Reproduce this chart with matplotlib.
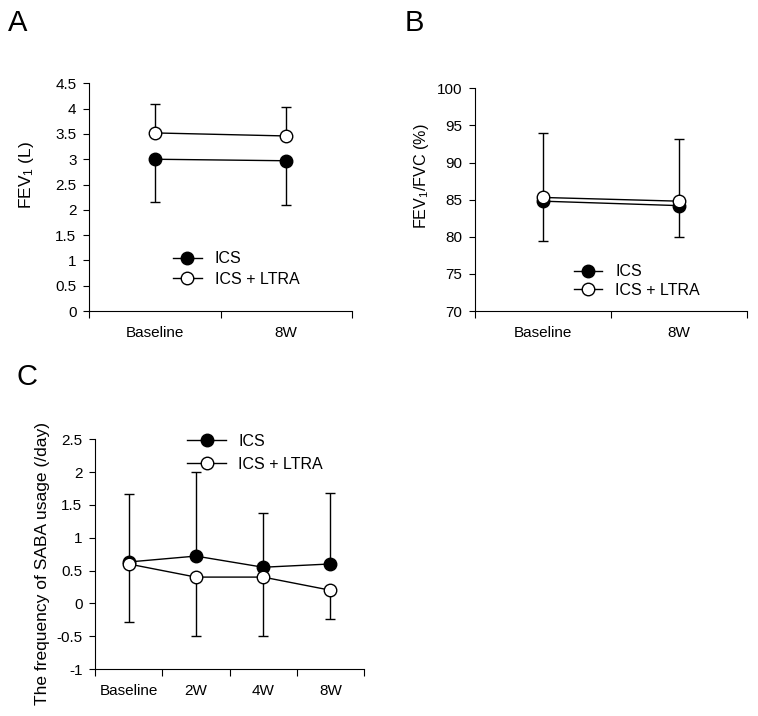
import numpy as np
import matplotlib.pyplot as plt

plt.rcParams['font.family'] = ['Liberation Sans', 'DejaVu Sans']
plt.rcParams['mathtext.fontset'] = 'custom'
plt.rcParams['mathtext.rm'] = 'Liberation Sans'
plt.rcParams['mathtext.it'] = 'Liberation Sans'

# Panel A - FEV1
a_labels = ['Baseline', '8W']
a_ics = [3.00, 2.97]
a_ics_low = [2.15, 2.10]
a_ltra = [3.52, 3.46]
a_ltra_high = [4.10, 4.03]

# Panel B - FEV1/FVC
b_labels = ['Baseline', '8W']
b_ics = [84.8, 84.2]
b_ics_low = [79.5, 80.0]
b_ltra = [85.3, 84.8]
b_ltra_high = [94.0, 93.2]

# Panel C - SABA usage
c_labels = ['Baseline', '2W', '4W', '8W']
c_ics = [0.63, 0.72, 0.55, 0.60]
c_ics_high = [1.67, 2.00, 1.37, 1.68]
c_ltra = [0.60, 0.40, 0.40, 0.20]
c_ltra_low = [-0.29, -0.49, -0.49, -0.24]

fig = plt.figure(figsize=(7.58, 7.16), dpi=100)


def panel(ax, labels, ics, ics_err, ltra, ltra_err, ics_down, ylim, yticks, ylabel, lsize, lpos):
    x = np.arange(len(labels))
    ics = np.array(ics)
    ltra = np.array(ltra)
    if ics_down:
        ics_yerr = [ics - np.array(ics_err), np.zeros(len(x))]
        ltra_yerr = [np.zeros(len(x)), np.array(ltra_err) - ltra]
    else:
        ics_yerr = [np.zeros(len(x)), np.array(ics_err) - ics]
        ltra_yerr = [ltra - np.array(ltra_err), np.zeros(len(x))]
    ax.errorbar(x, ics, yerr=ics_yerr, fmt='none', ecolor='black', elinewidth=1,
                capsize=3.5, capthick=1, zorder=1)
    ax.errorbar(x, ltra, yerr=ltra_yerr, fmt='none', ecolor='black', elinewidth=1,
                capsize=3.5, capthick=1, zorder=1)
    ax.plot(x, ics, '-o', color='black', mfc='black', mec='black', ms=9, lw=1,
            label='ICS', zorder=3)
    ax.plot(x, ltra, '-o', color='black', mfc='white', mec='black', ms=9, lw=1,
            label='ICS + LTRA', zorder=3)
    ax.set_xlim(-0.5, len(labels) - 0.5)
    ax.set_ylim(*ylim)
    ax.set_yticks(yticks)
    ax.set_yticklabels([('%g' % t) for t in yticks], fontsize=11)
    ax.set_xticks(np.arange(-0.5, len(labels), 1.0))
    ax.set_xticklabels([])
    ax.set_xticks(x, minor=True)
    ax.set_xticklabels(labels, minor=True, fontsize=11)
    ax.tick_params(axis='x', which='minor', length=0, pad=11)
    ax.tick_params(axis='x', which='major', length=5, direction='out')
    ax.tick_params(axis='y', length=4, direction='out', pad=5)
    for s in ['top', 'right']:
        ax.spines[s].set_visible(False)
    ax.set_ylabel(ylabel, fontsize=lsize)
    ax.yaxis.set_label_coords(*lpos)
    return ax


axA = fig.add_axes([0.1174, 0.5656, 0.347, 0.318])
panel(axA, a_labels, a_ics, a_ics_low, a_ltra, a_ltra_high, True,
      (0, 4.5), np.arange(0, 4.51, 0.5), 'FEV$_1$ (L)', 12.5, (-0.201, 0.60))
axA.legend(loc='center left', bbox_to_anchor=(0.265, 0.185), frameon=False,
           fontsize=11.5, handlelength=1.8, labelspacing=0.35)

axB = fig.add_axes([0.6266, 0.5656, 0.3588, 0.311])
panel(axB, b_labels, b_ics, b_ics_low, b_ltra, b_ltra_high, True,
      (70, 100), np.arange(70, 101, 5), 'FEV$_1$/FVC (%)', 11.6, (-0.162, 0.607))
axB.legend(loc='center left', bbox_to_anchor=(0.31, 0.135), frameon=False,
           fontsize=11.5, handlelength=1.8, labelspacing=0.2)

axC = fig.add_axes([0.1253, 0.0656, 0.355, 0.321])
panel(axC, c_labels, c_ics, c_ics_high, c_ltra, c_ltra_low, False,
      (-1, 2.5), np.arange(-1, 2.51, 0.5), 'The frequency of SABA usage (/day)', 12.5,
      (-0.167, 0.457))
axC.legend(loc='center left', bbox_to_anchor=(0.29, 0.94), frameon=False,
           fontsize=11.5, handlelength=2.4, labelspacing=0.5)

fig.text(0.0106, 0.9567, 'A', fontsize=21, va='baseline')
fig.text(0.534, 0.9567, 'B', fontsize=21, va='baseline')
fig.text(0.0224, 0.4623, 'C', fontsize=21, va='baseline')

fig.savefig('out.png', dpi=100)
